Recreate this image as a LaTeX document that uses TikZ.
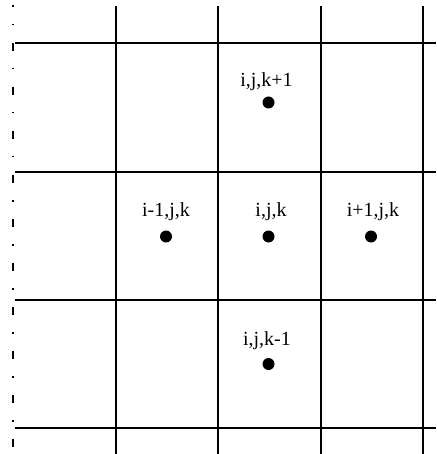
\documentclass[tikz,border=0pt]{standalone}
\usepackage{fontspec}
\setmainfont{Liberation Serif}
\begin{document}
\begin{tikzpicture}[x=0.5pt, y=-0.5pt,
    gridline/.style={line width=1pt},
    edgeline/.style={line width=1pt, dash pattern=on 4pt off 8.5pt on 0.75pt off 8.75pt, dash phase=3pt},
    cell/.style={circle, fill, inner sep=0pt, minimum size=6pt},
    idx/.style={anchor=base, inner sep=0pt, font=\fontsize{10}{12}\selectfont}]
    \useasboundingbox (0,0) rectangle (436,454);

    % grid lines
    \foreach \gx in {116,218,321,423}
        \draw[gridline] (\gx,6) -- (\gx,454);
    \foreach \gy in {43,172,300,428}
        \draw[gridline] (15,\gy) -- (436,\gy);
    \draw[edgeline] (12.5,5) -- (12.5,454);

    % cell centres
    \node[cell] (kp)  at (268.5,102.5) {};
    \node[cell] (im)  at (166,236.5) {};
    \node[cell] (ijk) at (268.5,236.5) {};
    \node[cell] (ip)  at (371,236.5) {};
    \node[cell] (km)  at (268.5,364) {};

    % indices
    \node[idx] (kp-l)  at (266.5,86.5) {i,j,k+1};
    \node[idx] (im-l)  at (166,216) {i-1,j,k};
    \node[idx] (ijk-l) at (271,216) {i,j,k};
    \node[idx] (ip-l)  at (373,216) {i+1,j,k};
    \node[idx] (km-l)  at (267,345) {i,j,k-1};
\end{tikzpicture}
\end{document}
